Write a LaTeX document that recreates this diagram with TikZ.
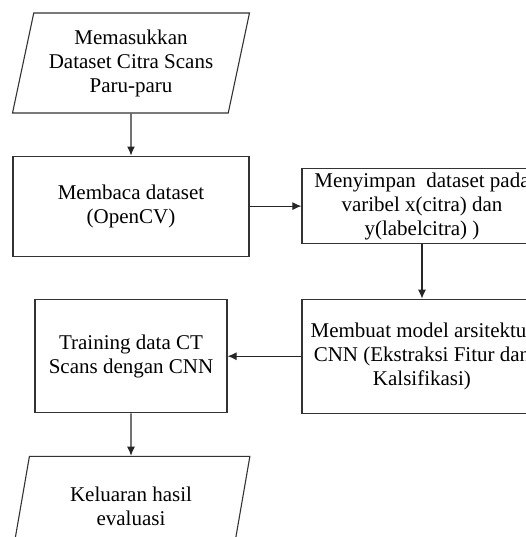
\documentclass[tikz,border=0pt]{standalone}
\usepackage{fontspec}
\setmainfont{Liberation Serif}
\usetikzlibrary{shapes.geometric,arrows.meta,calc}

\begin{document}
\begin{tikzpicture}[
  every matrix/.style={ampersand replacement=\&,column sep=51pt,row sep=42pt},
  every node/.style={align=center,font=\rmfamily\fontsize{21}{24}\selectfont},
  box/.style={draw=black!80, line width=1.1pt, inner sep=2pt},
  io/.style={trapezium, trapezium left angle=75, trapezium right angle=105,
    trapezium stretches=true, draw=black!80, line width=1.1pt,
    minimum width=237pt, minimum height=100pt, inner sep=0pt},
  flow/.style={-{Latex[length=9pt,width=8pt]}, draw=black!85, line width=1.1pt}]

\begin{scope}[overlay]
% Position the nodes using a matrix layout
\matrix{
    \node[io] (inputData) {Memasukkan\\Dataset Citra Scans\\Paru-paru};
    \& \\
    \node[box, minimum width=236pt, minimum height=100pt] (readDataset) {Membaca dataset\\(OpenCV)};
    \& \node[box, minimum width=240pt, minimum height=75pt] (storeDataset) {Menyimpan~ dataset pada\\varibel x(citra) dan\\y(labelcitra) )};
    \\
    \node[box, minimum width=192pt, minimum height=113pt] (trainCNN) {Training data CT\\Scans dengan CNN};
    \& \node[box, minimum width=240pt, minimum height=114pt] (buildModel) {Membuat model arsitektur\\CNN (Ekstraksi Fitur dan\\Kalsifikasi)};
    \\
    \node[io, minimum width=238pt] (outputEval) {Keluaran hasil\\evaluasi};
    \& \\
  };

% Draw the arrows between the nodes
\draw [flow] (inputData) -- (readDataset);
\draw [flow] (readDataset) -- (storeDataset);
\draw [flow] (storeDataset) -- (buildModel);
\draw [flow] (buildModel) -- (trainCNN);
\draw [flow] (trainCNN) -- (outputEval);
\end{scope}

% Crop as in the original figure
\path ($(inputData.center)+(-131pt,63pt)$) rectangle ($(inputData.center)+(394pt,-474pt)$);
\end{tikzpicture}
\end{document}
